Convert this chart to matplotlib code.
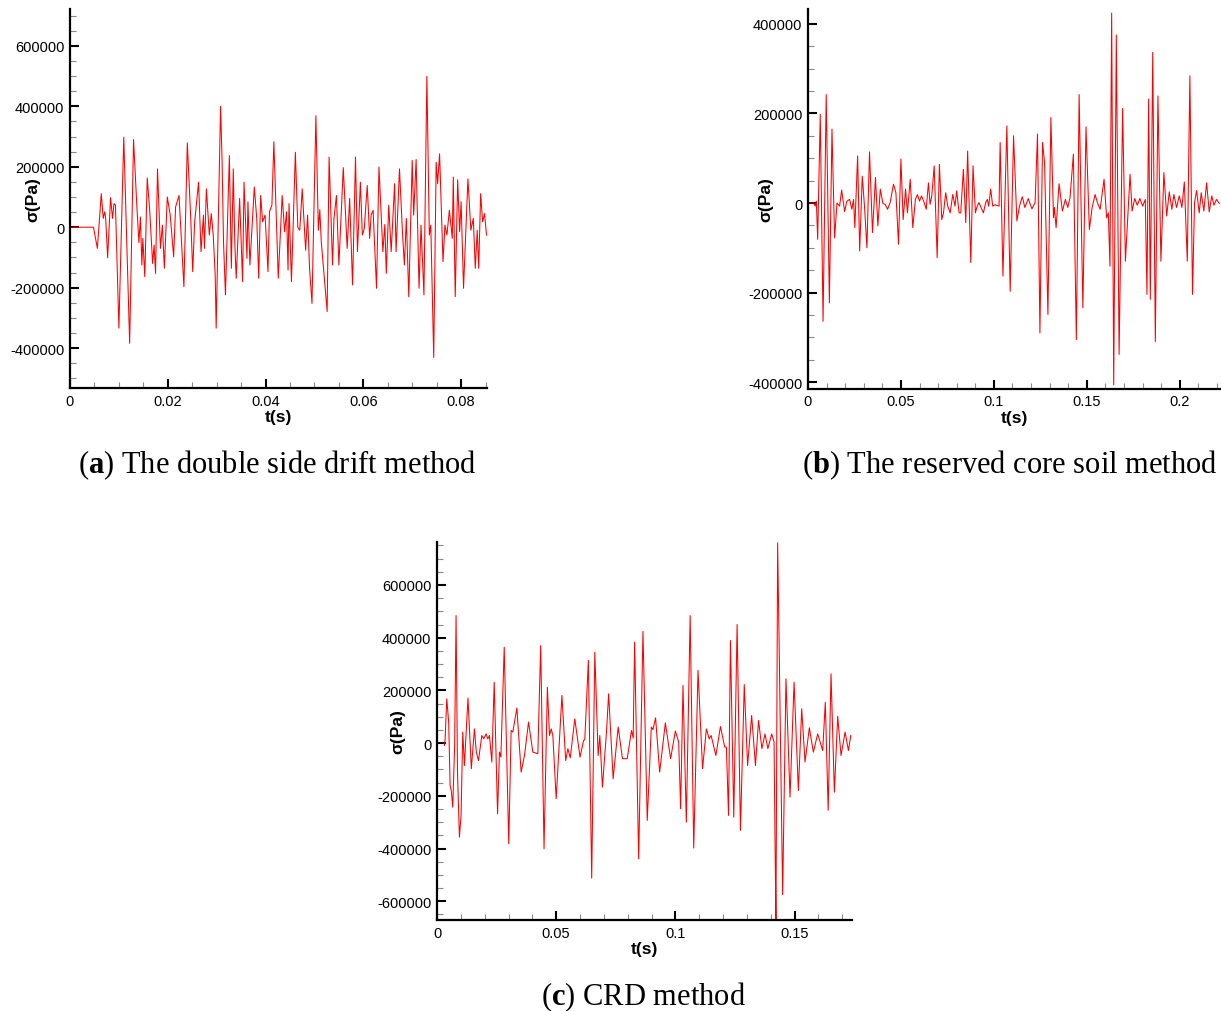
import matplotlib
matplotlib.use("Agg")
import matplotlib.pyplot as plt
from matplotlib.ticker import MultipleLocator, FuncFormatter

plt.rcParams["font.family"] = "Liberation Sans"
plt.rcParams["axes.unicode_minus"] = False
plt.rcParams["mathtext.fontset"] = "custom"
plt.rcParams["mathtext.rm"] = "Liberation Serif"
plt.rcParams["mathtext.bf"] = "Liberation Serif:bold"

# (a) double side drift: tiempo (s) y tension (Pa)
t_a = [0.0, 0.0048, 0.0056, 0.0064, 0.0068, 0.0071, 0.0073, 0.0077, 0.0083, 0.0087,
       0.0090, 0.0093, 0.0100, 0.0110, 0.0122, 0.0130, 0.0137, 0.0141, 0.0144, 0.0147,
       0.0149, 0.0153, 0.0158, 0.0163, 0.0169, 0.0172, 0.0175, 0.0179, 0.0185, 0.0189,
       0.0193, 0.0199, 0.0205, 0.0212, 0.0216, 0.0223, 0.0233, 0.0240, 0.0247, 0.0251,
       0.0255, 0.0263, 0.0268, 0.0273, 0.0275, 0.0279, 0.0285, 0.0289, 0.0293, 0.0297,
       0.0299, 0.0308, 0.0311, 0.0314, 0.0318, 0.0326, 0.0330, 0.0334, 0.0337, 0.0340,
       0.0347, 0.0351, 0.0353, 0.0356, 0.0362, 0.0364, 0.0368, 0.0377, 0.0382, 0.0386,
       0.0390, 0.0394, 0.0399, 0.0405, 0.0408, 0.0413, 0.0417, 0.0426, 0.0434, 0.0439,
       0.0443, 0.0446, 0.0448, 0.0453, 0.0461, 0.0466, 0.0470, 0.0475, 0.0482, 0.0486,
       0.0490, 0.0495, 0.0503, 0.0508, 0.0511, 0.0514, 0.0526, 0.0530, 0.0537, 0.0540,
       0.0545, 0.0550, 0.0559, 0.0567, 0.0572, 0.0578, 0.0584, 0.0588, 0.0594, 0.0598,
       0.0602, 0.0608, 0.0613, 0.0616, 0.0620, 0.0627, 0.0632, 0.0640, 0.0644, 0.0647,
       0.0652, 0.0657, 0.0664, 0.0667, 0.0674, 0.0680, 0.0684, 0.0688, 0.0693, 0.0700,
       0.0703, 0.0708, 0.0714, 0.0718, 0.0724, 0.0730, 0.0735, 0.0738, 0.0744, 0.0749,
       0.0752, 0.0756, 0.0763, 0.0767, 0.0771, 0.0776, 0.0782, 0.0784, 0.0788, 0.0793,
       0.0797, 0.0800, 0.0805, 0.0814, 0.0820, 0.0825, 0.0829, 0.0833, 0.0836, 0.0840,
       0.0844, 0.0848, 0.0852]
s_a = [0, 0, -70000, 111000, 29000, 51000, 29000, -101000, 98000, 29000,
       78000, 73000, -334000, 298000, -384000, 290000, 62000, -51000, 34000, -125000,
       -37000, -164000, 163000, 56000, -120000, -59000, -153000, 193000, -70000, 7000,
       -136000, 100000, 40000, -98000, 67000, 105000, -197000, 279000, 29000, -147000,
       18000, 149000, -81000, 40000, -70000, 127000, -26000, 45000, -26000, -158000,
       -334000, 400000, 226000, -48000, -224000, 237000, -136000, 193000, -48000, -169000,
       95000, -92000, -180000, 149000, -103000, 84000, -125000, 133000, 29000, -169000,
       105000, 18000, 40000, -147000, 51000, 73000, 283000, -169000, 105000, -15000,
       51000, -142000, 78000, -180000, 248000, 0, -10000, 127000, -76000, 40000,
       -136000, -252000, 369000, -10000, 58000, -48000, -279000, 232000, -125000, 29000,
       105000, -125000, 197000, -70000, 95000, -191000, 232000, -81000, 149000, -26000,
       -4000, 138000, -37000, 40000, 56000, -202000, 199000, -81000, 9000, -153000,
       73000, -81000, 144000, -81000, 193000, -15000, -125000, 29000, -230000, 221000,
       40000, 224000, -202000, 7000, -224000, 499000, -26000, 7000, -431000, 215000,
       144000, 243000, -114000, 7000, -26000, 56000, -37000, 166000, -230000, 157000,
       -15000, 84000, -202000, 160000, -10000, 29000, -136000, -10000, -136000, 111000,
       18000, 45000, -26000]

# (b) reserved core soil
t_b = [0.0, 0.0030, 0.0039, 0.0045, 0.0052, 0.0066, 0.0081, 0.0098, 0.0115, 0.0129,
       0.0143, 0.0156, 0.0170, 0.0181, 0.0197, 0.0209, 0.0224, 0.0236, 0.0245, 0.0252,
       0.0267, 0.0278, 0.0292, 0.0304, 0.0317, 0.0331, 0.0347, 0.0363, 0.0376, 0.0389,
       0.0403, 0.0415, 0.0428, 0.0442, 0.0460, 0.0473, 0.0487, 0.0500, 0.0512, 0.0525,
       0.0535, 0.0550, 0.0564, 0.0578, 0.0589, 0.0600, 0.0611, 0.0625, 0.0636, 0.0648,
       0.0657, 0.0666, 0.0679, 0.0695, 0.0707, 0.0720, 0.0729, 0.0741, 0.0752, 0.0765,
       0.0779, 0.0791, 0.0800, 0.0813, 0.0822, 0.0836, 0.0849, 0.0859, 0.0876, 0.0888,
       0.0901, 0.0908, 0.0920, 0.0931, 0.0944, 0.0956, 0.0965, 0.0972, 0.0983, 0.0994,
       0.1006, 0.1028, 0.1034, 0.1049, 0.1070, 0.1088, 0.1106, 0.1124, 0.1138, 0.1153,
       0.1167, 0.1185, 0.1205, 0.1222, 0.1235, 0.1248, 0.1262, 0.1273, 0.1291, 0.1307,
       0.1321, 0.1326, 0.1335, 0.1351, 0.1369, 0.1385, 0.1398, 0.1410, 0.1428, 0.1444,
       0.1459, 0.1479, 0.1496, 0.1514, 0.1529, 0.1545, 0.1557, 0.1572, 0.1593, 0.1607,
       0.1616, 0.1625, 0.1634, 0.1645, 0.1659, 0.1674, 0.1693, 0.1708, 0.1726, 0.1733,
       0.1744, 0.1758, 0.1772, 0.1786, 0.1801, 0.1815, 0.1824, 0.1833, 0.1842, 0.1855,
       0.1869, 0.1883, 0.1899, 0.1915, 0.1930, 0.1944, 0.1958, 0.1969, 0.1983, 0.1998,
       0.2012, 0.2025, 0.2041, 0.2055, 0.2069, 0.2080, 0.2091, 0.2105, 0.2116, 0.2130,
       0.2145, 0.2159, 0.2173, 0.2184, 0.2198, 0.2213]
s_b = [0, 0, -7000, 4000, -81000, 198000, -264000, 242000, -223000, 165000,
       -78000, 0, -7000, 29000, -19000, 4000, 8000, -14000, 8000, -55000,
       105000, -107000, 60000, -7000, -100000, 114000, -66000, 57000, -51000, 31000,
       -1000, -3000, -14000, 1000, 42000, 23000, -92000, 98000, -37000, 31000,
       -22000, 53000, -55000, 8000, 19000, 4000, 16000, 1000, -14000, 45000,
       -3000, 16000, 83000, -122000, 86000, -37000, -22000, 23000, -7000, -22000,
       19000, -7000, 27000, -22000, -22000, 75000, -44000, 116000, -133000, 83000,
       -22000, -10000, 1000, -10000, -22000, 1000, 8000, -7000, 31000, -7000,
       -4000, -7000, 135000, -163000, 172000, -197000, 150000, -40000, -7000, 14000,
       -10000, 10000, -13000, 1000, 154000, -290000, 135000, 90000, -249000, 191000,
       -33000, -10000, -55000, 43000, -18000, 8000, -10000, 12000, 109000, -305000,
       242000, -234000, 170000, -59000, -10000, 19000, 1000, -14000, 53000, -33000,
       -22000, -141000, 424000, -406000, 375000, -338000, 211000, -130000, 8000, 64000,
       -18000, 10000, -5000, 10000, -7000, 8000, -204000, 232000, -215000, 336000,
       -309000, 239000, -130000, 68000, -29000, 25000, -14000, 19000, -10000, 16000,
       -10000, 47000, -130000, 284000, -204000, 1000, 28000, -22000, 23000, -18000,
       45000, -20000, 16000, -5000, 8000, -1000]

# (c) CRD
t_c = [0.0031, 0.0034, 0.0041, 0.0049, 0.0055, 0.0060, 0.0066, 0.0074, 0.0080, 0.0086,
       0.0094, 0.0101, 0.0108, 0.0115, 0.0130, 0.0144, 0.0157, 0.0165, 0.0174, 0.0188,
       0.0196, 0.0206, 0.0213, 0.0220, 0.0230, 0.0240, 0.0254, 0.0262, 0.0268, 0.0282,
       0.0301, 0.0311, 0.0318, 0.0335, 0.0353, 0.0367, 0.0384, 0.0402, 0.0423, 0.0435,
       0.0449, 0.0463, 0.0472, 0.0479, 0.0486, 0.0500, 0.0524, 0.0540, 0.0549, 0.0559,
       0.0578, 0.0600, 0.0615, 0.0620, 0.0635, 0.0649, 0.0662, 0.0676, 0.0683, 0.0694,
       0.0711, 0.0720, 0.0739, 0.0760, 0.0778, 0.0798, 0.0816, 0.0823, 0.0829, 0.0846,
       0.0864, 0.0882, 0.0899, 0.0906, 0.0917, 0.0934, 0.0958, 0.0980, 0.1000, 0.1014,
       0.1022, 0.1032, 0.1046, 0.1062, 0.1077, 0.1095, 0.1114, 0.1130, 0.1142, 0.1150,
       0.1170, 0.1189, 0.1207, 0.1214, 0.1223, 0.1231, 0.1245, 0.1259, 0.1273, 0.1289,
       0.1303, 0.1320, 0.1336, 0.1349, 0.1363, 0.1376, 0.1388, 0.1404, 0.1414, 0.1419,
       0.1422, 0.1429, 0.1435, 0.1450, 0.1464, 0.1481, 0.1498, 0.1516, 0.1530, 0.1544,
       0.1562, 0.1579, 0.1597, 0.1618, 0.1629, 0.1641, 0.1653, 0.1667, 0.1681, 0.1695,
       0.1712, 0.1726, 0.1736]
s_c = [-9000, 16000, 168000, 80000, -161000, -180000, -243000, -9000, 484000, -110000,
       -357000, -274000, 42000, -85000, 171000, -97000, 54000, -34000, -66000, 29000,
       16000, 35000, 16000, 29000, -72000, 231000, -268000, -34000, -53000, 364000,
       -382000, 48000, 42000, 133000, -110000, -47000, 80000, -34000, -40000, 370000,
       -401000, 212000, 29000, 54000, 29000, -211000, 181000, -66000, -21000, -56000,
       92000, -53000, 10000, 13000, 314000, -512000, 345000, -47000, 29000, -167000,
       42000, 187000, -135000, 61000, -59000, -59000, 48000, 19000, 383000, -439000,
       424000, -293000, 61000, 51000, 96000, -110000, 77000, -59000, 46000, 4000,
       -249000, 219000, -300000, 484000, -398000, 276000, -97000, 54000, 16000, 29000,
       -47000, 63000, -15000, -15000, -274000, 389000, -281000, 450000, -331000, 222000,
       -85000, 105000, -85000, 86000, -21000, 35000, -21000, 35000, 4000, -451000,
       -679000, 760000, 396000, -575000, 244000, -205000, 231000, -180000, 130000, -72000,
       58000, -34000, 35000, -28000, 155000, -255000, 263000, -186000, 102000, -47000,
       42000, -28000, 29000]

fig = plt.figure(figsize=(12.21, 10.12), dpi=100)


def panel(pos, t, s, xlim, ylim, xmaj, xmin, ylab_x, xlab_y):
    ax = fig.add_axes(pos)
    ax.plot(t, s, color="#ff0000", lw=0.75)
    ax.set_xlim(xlim)
    ax.set_ylim(ylim)
    ax.spines["top"].set_visible(False)
    ax.spines["right"].set_visible(False)
    ax.spines["left"].set_linewidth(1.6)
    ax.spines["bottom"].set_linewidth(1.6)
    ax.xaxis.set_major_locator(MultipleLocator(xmaj))
    ax.xaxis.set_minor_locator(MultipleLocator(xmin))
    ax.yaxis.set_major_locator(MultipleLocator(200000))
    ax.yaxis.set_minor_locator(MultipleLocator(50000))
    ax.xaxis.set_major_formatter(FuncFormatter(lambda v, p: "%g" % round(v, 4)))
    ax.yaxis.set_major_formatter(FuncFormatter(lambda v, p: "%d" % round(v)))
    ax.tick_params(which="major", direction="in", length=6.5, width=1.5,
                   labelsize=10.5, pad=4)
    ax.tick_params(which="minor", direction="in", length=4, width=0.8,
                   color="#888888")
    ax.set_xlabel("t(s)", fontsize=12.5, fontweight="bold")
    ax.set_ylabel("σ(Pa)", fontsize=12.5, fontweight="bold")
    ax.xaxis.set_label_coords(0.5, xlab_y)
    ax.yaxis.set_label_coords(ylab_x, 0.5)
    return ax


panel([70 / 1221, 1 - 389 / 1012, 417 / 1221, 379 / 1012], t_a, s_a,
      (0, 0.0853), (-532000, 722000), 0.02, 0.005, -0.072, -0.056)
panel([808 / 1221, 1 - 389.5 / 1012, 412 / 1221, 379.5 / 1012], t_b, s_b,
      (0, 0.2217), (-414000, 433000), 0.05, 0.01, -0.085, -0.056)
panel([437 / 1221, 1 - 921 / 1012, 415 / 1221, 378 / 1012], t_c, s_c,
      (0, 0.1741), (-671000, 763000), 0.05, 0.01, -0.077, -0.056)

# leyendas de cada figura
fig.text(277 / 1221, 1 - 465 / 1012, r"($\mathbf{a}$) The double side drift method",
         family="Liberation Serif", fontsize=22, ha="center", va="center")
fig.text(1010 / 1221, 1 - 465 / 1012, r"($\mathbf{b}$) The reserved core soil method",
         family="Liberation Serif", fontsize=22, ha="center", va="center")
fig.text(643 / 1221, 1 - 997 / 1012, r"($\mathbf{c}$) CRD method",
         family="Liberation Serif", fontsize=22, ha="center", va="center")

fig.savefig("out.png", dpi=100)
